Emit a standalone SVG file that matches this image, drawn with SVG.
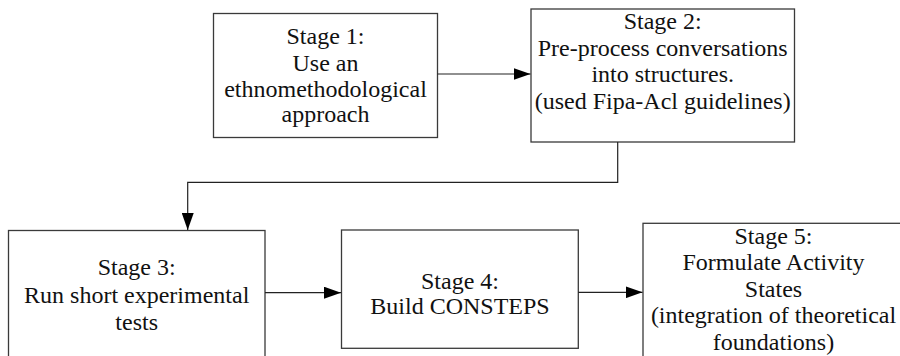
<svg xmlns="http://www.w3.org/2000/svg" width="900" height="356" viewBox="0 0 900 356">
<style>
.box{fill:#fff;stroke:#3a3a3a;stroke-width:1.3}
.lbl{font-size:24px;fill:#111;text-anchor:middle}
.con{fill:none;stroke:#222;stroke-width:1.2}
</style>
<defs>
<marker id="ah" markerUnits="userSpaceOnUse" markerWidth="18" markerHeight="12" refX="17" refY="6" orient="auto">
<path d="M0,0 L17,6 L0,12 Z" fill="#000"/>
</marker>
</defs>
<rect width="900" height="356" fill="#fff"/>
<g font-family="'Liberation Serif', 'Times New Roman', serif">
<g id="stage1">
<rect class="box" x="213.5" y="13.5" width="224" height="124"/>
<text class="lbl" x="325.5" y="44">Stage 1:</text>
<text class="lbl" x="325.5" y="70.5">Use an</text>
<text class="lbl" x="325.5" y="97">ethnomethodological</text>
<text class="lbl" x="325.5" y="122">approach</text>
</g>
<g id="stage2">
<rect class="box" x="531" y="9" width="263.5" height="133"/>
<text class="lbl" x="662.7" y="29">Stage 2:</text>
<text class="lbl" x="662.7" y="55.5">Pre-process conversations</text>
<text class="lbl" x="662.7" y="82">into structures.</text>
<text class="lbl" x="662.7" y="108.5">(used Fipa-Acl guidelines)</text>
</g>
<g id="stage3">
<rect class="box" x="8.5" y="230.5" width="256.5" height="140"/>
<text class="lbl" x="136.7" y="275">Stage 3:</text>
<text class="lbl" x="136.7" y="302.5">Run short experimental</text>
<text class="lbl" x="136.7" y="330">tests</text>
</g>
<g id="stage4">
<rect class="box" x="341.5" y="230" width="236.8" height="118.3"/>
<text class="lbl" x="460" y="288.5">Stage 4:</text>
<text class="lbl" x="460" y="313.5">Build CONSTEPS</text>
</g>
<g id="stage5">
<rect class="box" x="643" y="223.3" width="262" height="150"/>
<text class="lbl" x="773.5" y="243.5">Stage 5:</text>
<text class="lbl" x="773.5" y="270">Formulate Activity</text>
<text class="lbl" x="773.5" y="296.7">States</text>
<text class="lbl" x="773.5" y="323.3">(integration of theoretical</text>
<text class="lbl" x="773.5" y="350">foundations)</text>
</g>
</g>
<g id="connectors">
<path class="con" d="M437.5,74 L530.5,74" marker-end="url(#ah)"/>
<path class="con" d="M617.7,142 L617.7,182.3 L187.7,182.3 L187.7,230" marker-end="url(#ah)"/>
<path class="con" d="M265,292.7 L341,292.7" marker-end="url(#ah)"/>
<path class="con" d="M578.3,292.3 L642.5,292.3" marker-end="url(#ah)"/>
</g>
</svg>
